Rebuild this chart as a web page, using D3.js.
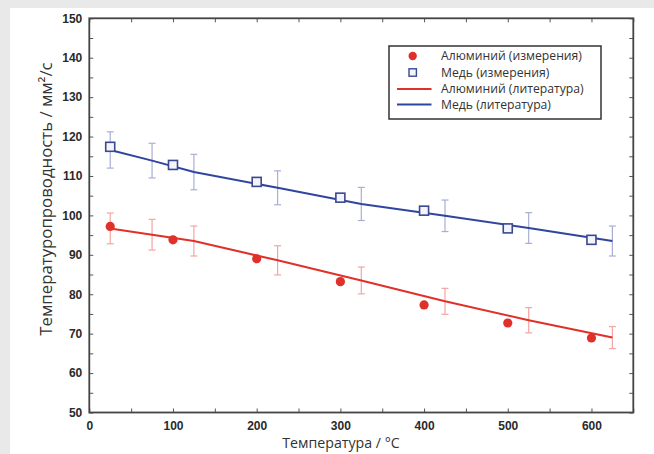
<!DOCTYPE html>
<html>
<head>
<meta charset="utf-8">
<script src="https://cdn.jsdelivr.net/npm/d3@7"></script>
<style>
  html, body { margin: 0; padding: 0; background: #e9e9e9; }
  svg { display: block; }
</style>
</head>
<body>
<svg id="chart" width="654" height="454"></svg>
<script>
// ---- data ----
const tempMeas = [25, 100, 200, 300, 400, 500, 600];
const alMeas   = [97.2, 93.8, 89.0, 83.2, 77.3, 72.7, 68.9];
const cuMeas   = [117.4, 112.8, 108.5, 104.5, 101.2, 96.7, 93.8];

const tempLit  = [25, 75, 125, 225, 325, 425, 525, 625];
const alLit    = [96.7, 95.1, 93.5, 88.6, 83.5, 78.2, 73.4, 69.0];
const alErr    = [3.9, 3.9, 3.8, 3.7, 3.4, 3.3, 3.2, 2.8];
const cuLit    = [116.6, 113.9, 111.0, 107.0, 102.9, 99.9, 96.8, 93.5];
const cuErr    = [4.6, 4.4, 4.5, 4.3, 4.2, 4.0, 3.9, 3.8];

const xMajor = [0, 100, 200, 300, 400, 500, 600];
const xMinor = [50, 150, 250, 350, 450, 550, 650];
const yMajor = [50, 60, 70, 80, 90, 100, 110, 120, 130, 140, 150];
const yMinor = [55, 65, 75, 85, 95, 105, 115, 125, 135, 145];

const legendLabels = ["Алюминий (измерения)", "Медь (измерения)", "Алюминий (литература)", "Медь (литература)"];
const xTitle = "Температура / °C";
const yTitle = "Температуропроводность / мм²/с";

// ---- layout ----
const svg = d3.select("#chart");
const L = 89.3, R = 633.3, T = 18.3, B = 412.5;
const x = d3.scaleLinear().domain([0, 650]).range([L, R]);
const y = d3.scaleLinear().domain([50, 150]).range([B, T]);

const RED = "#e0302a", BLUE = "#2f45a0";
const RED_ERR = "#f2a5a3", BLUE_ERR = "#a9aed5";

// white panel
svg.append("rect").attr("x", 10).attr("y", 8).attr("width", 644).attr("height", 446).attr("fill", "#ffffff");

// axes
function styleAxis(g) {
  g.select(".domain").remove();
  g.selectAll(".tick line").attr("stroke", "#555").attr("stroke-width", 1);
  g.selectAll(".tick text")
    .attr("font-family", "'Liberation Sans', Arial, sans-serif")
    .attr("font-weight", "bold")
    .attr("font-size", 12)
    .attr("fill", "#2a2a2a");
}
const TS = 4;
svg.append("g").attr("transform", `translate(0,${B})`)
  .call(d3.axisBottom(x).tickValues(xMinor).tickSize(-TS).tickFormat(""))
  .call(styleAxis);
svg.append("g").attr("transform", `translate(0,${B})`)
  .call(d3.axisBottom(x).tickValues(xMajor).tickSize(-TS).tickPadding(9).tickFormat(d3.format("d")))
  .call(styleAxis);
svg.append("g").attr("transform", `translate(0,${T})`)
  .call(d3.axisTop(x).tickValues(xMajor.concat(xMinor)).tickSize(-TS).tickFormat(""))
  .call(styleAxis);
svg.append("g").attr("transform", `translate(${L},0)`)
  .call(d3.axisLeft(y).tickValues(yMinor).tickSize(-TS).tickFormat(""))
  .call(styleAxis);
svg.append("g").attr("transform", `translate(${L},0)`)
  .call(d3.axisLeft(y).tickValues(yMajor).tickSize(-TS).tickPadding(7).tickFormat(d3.format("d")))
  .call(styleAxis);
svg.append("g").attr("transform", `translate(${R},0)`)
  .call(d3.axisRight(y).tickValues(yMajor.concat(yMinor)).tickSize(-TS).tickFormat(""))
  .call(styleAxis);

// frame
svg.append("rect").attr("x", L).attr("y", T).attr("width", R - L).attr("height", B - T)
  .attr("fill", "none").attr("stroke", "#444").attr("stroke-width", 1.8);

// error bars
function errorBars(xs, vals, errs, color) {
  const g = svg.append("g").attr("stroke", color).attr("stroke-width", 1.2).attr("fill", "none");
  xs.forEach((t, i) => {
    const cx = x(t), y1 = y(vals[i] + errs[i]), y2 = y(vals[i] - errs[i]);
    g.append("line").attr("x1", cx).attr("x2", cx).attr("y1", y1).attr("y2", y2);
    g.append("line").attr("x1", cx - 3.5).attr("x2", cx + 3.5).attr("y1", y1).attr("y2", y1);
    g.append("line").attr("x1", cx - 3.5).attr("x2", cx + 3.5).attr("y1", y2).attr("y2", y2);
  });
}
errorBars(tempLit, alLit, alErr, RED_ERR);
errorBars(tempLit, cuLit, cuErr, BLUE_ERR);

// literature lines
const line = d3.line().x(d => x(d[0])).y(d => y(d[1]));
svg.append("path").datum(tempLit.map((t, i) => [t, alLit[i]]))
  .attr("d", line).attr("fill", "none").attr("stroke", RED).attr("stroke-width", 2);
svg.append("path").datum(tempLit.map((t, i) => [t, cuLit[i]]))
  .attr("d", line).attr("fill", "none").attr("stroke", BLUE).attr("stroke-width", 2);

// measured points
svg.append("g").selectAll("circle").data(tempMeas).join("circle")
  .attr("cx", d => x(d)).attr("cy", (d, i) => y(alMeas[i])).attr("r", 4.6)
  .attr("fill", RED);
svg.append("g").selectAll("rect").data(tempMeas).join("rect")
  .attr("x", d => x(d) - 4.5).attr("y", (d, i) => y(cuMeas[i]) - 4.5)
  .attr("width", 9).attr("height", 9)
  .attr("fill", "#f4f5fb").attr("stroke", "#3a4890").attr("stroke-width", 1.6);

// legend
const lg = svg.append("g");
lg.append("rect").attr("x", 389).attr("y", 46).attr("width", 212).attr("height", 73)
  .attr("fill", "#fff").attr("stroke", "#333").attr("stroke-width", 1.5);
const rowY = [56, 72.5, 89, 104.5];
lg.append("circle").attr("cx", 412.7).attr("cy", rowY[0]).attr("r", 4.2).attr("fill", RED);
lg.append("rect").attr("x", 409).attr("y", rowY[1] - 3.7).attr("width", 7.4).attr("height", 7.4)
  .attr("fill", "#f4f5fb").attr("stroke", "#3a4890").attr("stroke-width", 1.4);
lg.append("line").attr("x1", 397).attr("x2", 431.5).attr("y1", rowY[2]).attr("y2", rowY[2])
  .attr("stroke", RED).attr("stroke-width", 2);
lg.append("line").attr("x1", 397).attr("x2", 431.5).attr("y1", rowY[3]).attr("y2", rowY[3])
  .attr("stroke", BLUE).attr("stroke-width", 2);
lg.selectAll("text").data(legendLabels).join("text")
  .attr("x", 441).attr("y", (d, i) => rowY[i]).attr("dy", "0.35em")
  .attr("font-family", "'Open Sans', sans-serif").attr("font-size", 12.2)
  .attr("fill", "#333").text(d => d);

// axis titles
svg.append("text").attr("x", 341).attr("y", 448)
  .attr("text-anchor", "middle")
  .attr("font-family", "'Open Sans', sans-serif").attr("font-size", 14.2)
  .attr("fill", "#333").text(xTitle);
svg.append("text")
  .attr("transform", `translate(52,199) rotate(-90)`)
  .attr("text-anchor", "middle")
  .attr("font-family", "'Open Sans', sans-serif").attr("font-size", 16.8)
  .attr("fill", "#333").text(yTitle);
</script>
</body>
</html>
